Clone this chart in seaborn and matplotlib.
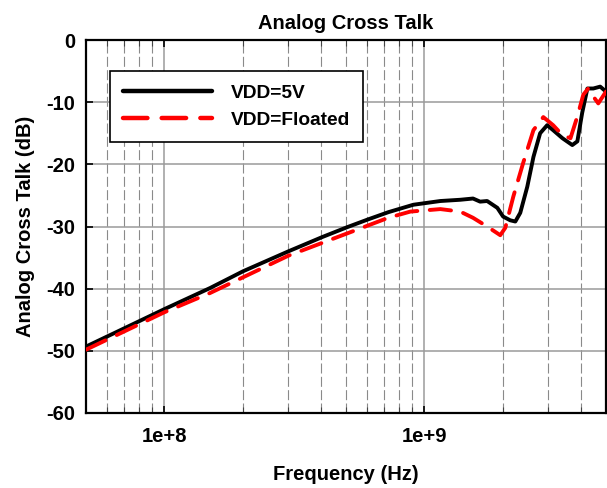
import numpy as np
import pandas as pd
import matplotlib
matplotlib.use("Agg")
import matplotlib.pyplot as plt
import seaborn as sns
from matplotlib.ticker import FixedLocator, NullFormatter

# ---- data ----
freq_5v = [5.01e7, 7.08e7, 1.0e8, 1.50e8, 2.01e8, 3.00e8, 4.05e8, 5.06e8, 6.04e8,
           7.27e8, 9.08e8, 1.153e9, 1.375e9, 1.54e9, 1.64e9, 1.745e9, 1.91e9,
           2.01e9, 2.14e9, 2.24e9, 2.34e9, 2.49e9, 2.63e9, 2.79e9, 2.97e9,
           3.13e9, 3.40e9, 3.71e9, 3.88e9, 4.05e9, 4.24e9, 4.47e9, 4.75e9, 5.0e9]
db_5v = [-49.3, -46.3, -43.3, -39.9, -37.2, -34.0, -31.7, -30.1, -28.9,
         -27.7, -26.5, -25.9, -25.7, -25.5, -26.0, -25.9, -27.0,
         -28.4, -29.0, -29.2, -27.8, -23.6, -18.8, -15.0, -13.7,
         -14.5, -15.8, -16.9, -16.3, -11.7, -7.8, -7.8, -7.5, -8.3]

freq_float = [5.01e7, 1.0e8, 1.50e8, 3.00e8, 5.06e8, 7.27e8, 8.84e8, 1.153e9,
              1.375e9, 1.54e9, 1.745e9, 1.96e9, 2.05e9, 2.20e9, 2.40e9, 2.63e9,
              2.87e9, 3.13e9, 3.40e9, 3.65e9, 3.88e9, 4.09e9, 4.27e9, 4.47e9,
              4.67e9, 5.0e9]
db_float = [-49.8, -43.8, -40.7, -34.7, -31.1, -28.6, -27.6, -27.2,
            -27.6, -28.6, -30.0, -31.4, -30.2, -25.2, -19.8, -14.5,
            -12.4, -13.7, -15.3, -15.8, -12.3, -8.8, -7.8, -9.1,
            -10.2, -8.3]

series_names = ["VDD=5V", "VDD=Floated"]
y_ticks = [-60, -50, -40, -30, -20, -10, 0]
x_major = [1e8, 1e9]
x_major_labels = ["1e+8", "1e+9"]
x_minor = [6e7, 7e7, 8e7, 9e7, 2e8, 3e8, 4e8, 5e8, 6e8, 7e8, 8e8, 9e8,
           2e9, 3e9, 4e9]

df = pd.concat([
    pd.DataFrame({"Frequency": freq_5v, "dB": db_5v, "Series": series_names[0]}),
    pd.DataFrame({"Frequency": freq_float, "dB": db_float, "Series": series_names[1]}),
], ignore_index=True)

# ---- style ----
sns.set_theme(style="ticks")
plt.rcParams["font.family"] = ["Liberation Sans", "DejaVu Sans"]
plt.rcParams["font.weight"] = "bold"
plt.rcParams["text.color"] = "black"
plt.rcParams["axes.labelcolor"] = "black"
plt.rcParams["xtick.color"] = "black"
plt.rcParams["ytick.color"] = "black"

fig = plt.figure(figsize=(6.07, 4.88), dpi=100)
ax = fig.add_axes([86 / 607, 1 - 413 / 488, 520 / 607, 373 / 488])

sns.lineplot(data=df, x="Frequency", y="dB", hue="Series", style="Series",
             palette={series_names[0]: "black", series_names[1]: "#ff0000"},
             dashes={series_names[0]: "", series_names[1]: (5.5, 3.2)},
             estimator=None, sort=True, linewidth=2.8, ax=ax, zorder=5)
for ln in ax.get_lines():
    ln.set_dash_capstyle("round")
    ln.set_solid_capstyle("round")
    ln.set_solid_joinstyle("round")

ax.set_xscale("log")
ax.set_xlim(5e7, 5e9)
ax.set_ylim(-60, 0)
ax.set_yticks(y_ticks)
ax.set_yticklabels([str(v) for v in y_ticks])
ax.xaxis.set_major_locator(FixedLocator(x_major))
ax.set_xticklabels(x_major_labels)
ax.xaxis.set_minor_locator(FixedLocator(x_minor))
ax.xaxis.set_minor_formatter(NullFormatter())

ax.grid(True, which="major", axis="y", color="#9a9a9a", linewidth=1.1, linestyle="-")
ax.grid(True, which="major", axis="x", color="#b0b0b0", linewidth=1.4, linestyle="-")
ax.grid(True, which="minor", axis="x", color="#8a8a8a", linewidth=0.8,
        linestyle=(0, (9, 3)))
ax.set_axisbelow(True)

ax.tick_params(axis="both", which="major", direction="in", length=5, width=1.2,
               color="black", labelcolor="black", labelsize=14.5, top=True,
               right=False, pad=8)
ax.tick_params(axis="x", which="minor", direction="in", length=4, width=0.8,
               color="#444444", top=True, bottom=True)
for lab in ax.get_xticklabels() + ax.get_yticklabels():
    lab.set_fontweight("bold")
ax.tick_params(axis="x", which="major", pad=10)

for sp in ax.spines.values():
    sp.set_color("black")
    sp.set_linewidth(1.6)
    sp.set_visible(True)

ax.set_title("Analog Cross Talk", fontsize=14.5, fontweight="bold", pad=8,
             color="black")
ax.set_xlabel("Frequency (Hz)", fontsize=14.5, fontweight="bold", labelpad=14,
              color="black")
ax.set_ylabel("Analog Cross Talk (dB)", fontsize=14.5, fontweight="bold",
              labelpad=8, color="black")

handles, labels = ax.get_legend_handles_labels()
leg = ax.legend(handles, labels, loc="upper left", bbox_to_anchor=(0.046, 0.917),
                borderaxespad=0, frameon=True, fancybox=False, shadow=False,
                handlelength=4.6, handletextpad=1.0,
                labelspacing=0.5, borderpad=0.7,
                prop={"weight": "bold", "size": 13.8})
leg.get_frame().set_edgecolor("black")
leg.get_frame().set_linewidth(1.2)
leg.get_frame().set_alpha(1)
for t in leg.get_texts():
    t.set_color("black")
for h in leg.get_lines():
    h.set_linewidth(3.2)
    h.set_dash_capstyle("round")
    h.set_solid_capstyle("round")

fig.savefig("out.png", dpi=100)
